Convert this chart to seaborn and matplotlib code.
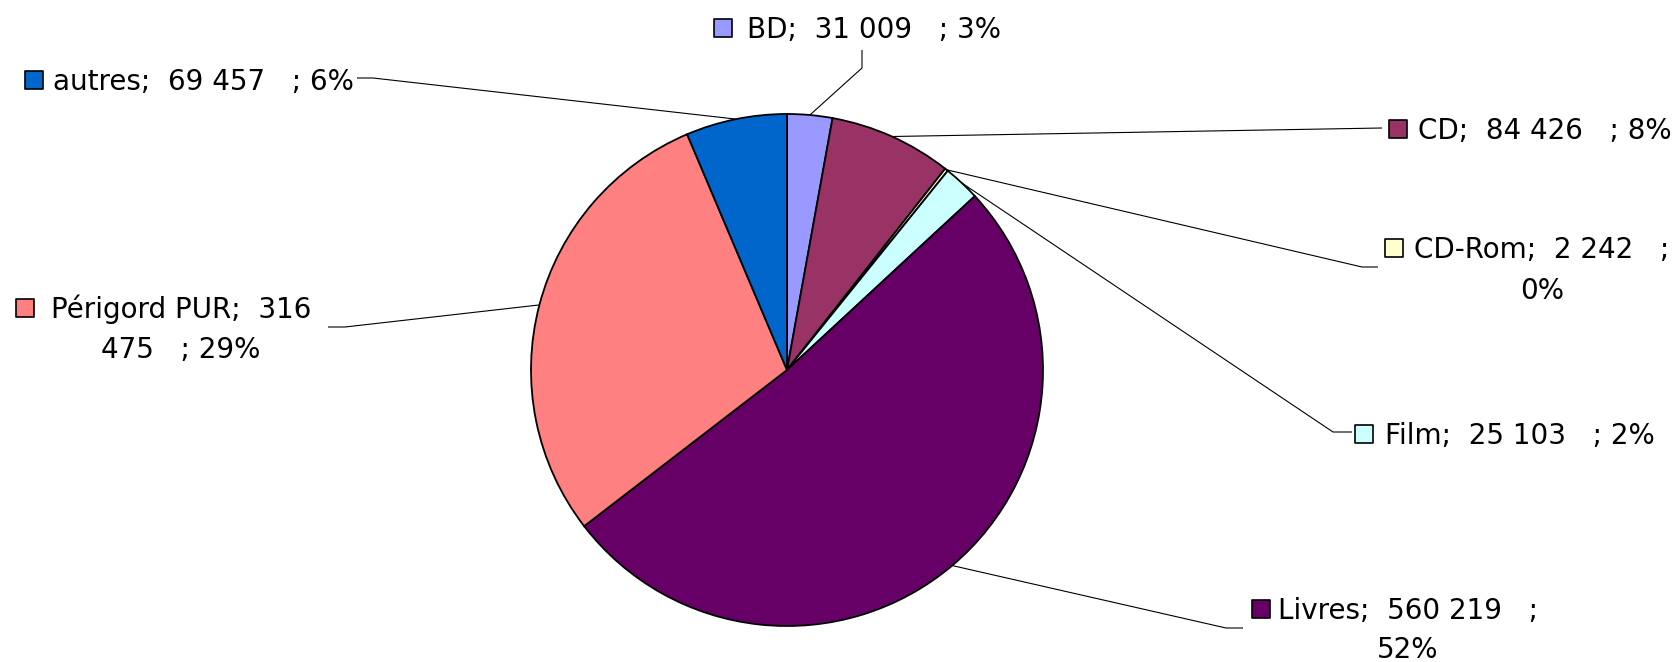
import numpy as np
import matplotlib
matplotlib.use("Agg")
import matplotlib.pyplot as plt
import seaborn as sns

# data (clockwise from 12 o'clock)
categories = ["BD", "CD", "CD-Rom", "Film", "Livres", "Périgord PUR", "autres"]
values = [31009, 84426, 2242, 25103, 560219, 316475, 69457]
percents = [3, 8, 0, 2, 52, 29, 6]
colors = ["#9999FF", "#993366", "#FFFFCC", "#CCFFFF", "#660066", "#FF8080", "#0066CC"]

sns.set_style("white")
plt.rcParams["font.family"] = ["DejaVu Sans"]

W, H = 1680, 662
cx, cy, R = 787, 370, 256          # pie centre / radius in pixels (y down)
FS = 20

# label layout, pixel coords (y down): square centre, text x, line y's, break, leader
layout = {
    "BD":           dict(sq=(723, 28),   tx=747,  ha="left",   ys=[28],       brk=None,
                         lead=[(862, 50), (862, 68)]),
    "CD":           dict(sq=(1398, 129), tx=1418, ha="left",   ys=[129],      brk=None,
                         lead=[(1382, 128)]),
    "CD-Rom":       dict(sq=(1394, 248), tx=1542, ha="center", ys=[248, 289], brk=-1,
                         lead=[(1378, 267), (1362, 267)]),
    "Film":         dict(sq=(1364, 434), tx=1385, ha="left",   ys=[434],      brk=None,
                         lead=[(1352, 432), (1333, 432)]),
    "Livres":       dict(sq=(1261, 609), tx=1408, ha="center", ys=[609, 648], brk=-1,
                         lead=[(1243, 628), (1226, 628)]),
    "Périgord PUR": dict(sq=(25, 308),   tx=181,  ha="center", ys=[308, 348], brk=4,
                         lead=[(328, 327), (345, 327)]),
    "autres":       dict(sq=(34, 80),    tx=53,   ha="left",   ys=[80],       brk=None,
                         lead=[(357, 78), (373, 78)]),
}


def fmt(v):
    return f"{v:,}".replace(",", " ")


def split_label(s, n):
    if n is None:
        return [s]
    spaces = [i for i, c in enumerate(s) if c == " "]
    k = spaces[-1] if n == -1 else spaces[n - 1]
    return [s[:k], s[k + 1:]]


fig = plt.figure(figsize=(W / 100, H / 100), dpi=100)
ax = fig.add_axes([0, 0, 1, 1])

ax.pie(values, colors=colors, startangle=90, counterclock=False,
       center=(cx, H - cy), radius=R,
       wedgeprops=dict(edgecolor="black", linewidth=1.3))
ax.set_xlim(0, W)
ax.set_ylim(0, H)
ax.set_aspect("equal")
ax.axis("off")

total = sum(values)
cum = np.cumsum([0] + values[:-1])
for name, v, c0, p, col in zip(categories, values, cum, percents, colors):
    L = layout[name]
    theta = np.deg2rad(360 * (c0 + v / 2) / total)
    ax_x = cx + R * np.sin(theta)
    ax_y = cy - R * np.cos(theta)
    pts = L["lead"] + [(ax_x, ax_y)]
    ax.plot([q[0] for q in pts], [H - q[1] for q in pts], color="black", lw=0.8,
            solid_capstyle="butt", zorder=1)

    ax.scatter([L["sq"][0]], [H - L["sq"][1]], marker="s", s=150, color=col,
               edgecolor="black", linewidth=1.2, zorder=3)

    text = f"{name};  {fmt(v)}   ; {p}%"
    for line, y in zip(split_label(text, L["brk"]), L["ys"]):
        ax.text(L["tx"], H - (y + 10), line, ha=L["ha"], va="baseline",
                fontsize=FS, color="black")

fig.savefig("out.png", dpi=100, facecolor="white")
